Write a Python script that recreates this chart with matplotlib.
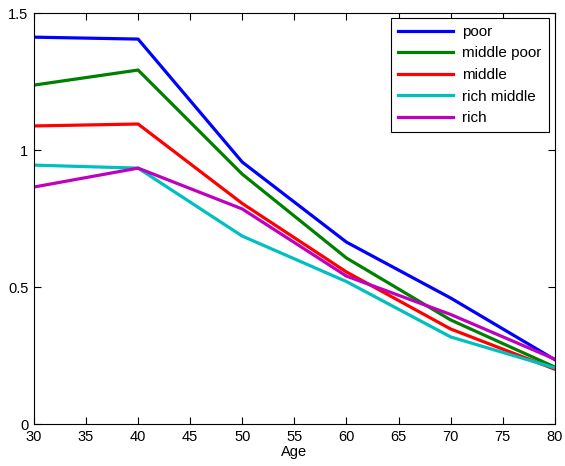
import matplotlib
matplotlib.use('Agg')
import matplotlib.pyplot as plt

plt.rcParams['font.family'] = ['Liberation Sans', 'DejaVu Sans']
plt.rcParams['font.size'] = 10.5

# age groups and ratio per income group
age = [30, 40, 50, 60, 70, 80]
poor = [1.412, 1.405, 0.956, 0.664, 0.460, 0.235]
middle_poor = [1.237, 1.292, 0.912, 0.606, 0.380, 0.208]
middle = [1.088, 1.095, 0.805, 0.555, 0.347, 0.200]
rich_middle = [0.945, 0.934, 0.686, 0.520, 0.318, 0.205]
rich = [0.865, 0.934, 0.785, 0.540, 0.400, 0.237]

fig = plt.figure(figsize=(5.65, 4.66), dpi=100)
ax = fig.add_axes([0.060, 0.090, 0.922, 0.882])

lw = 2.3
ax.plot(age, poor, color=(0, 0, 1), lw=lw, label='poor')
ax.plot(age, middle_poor, color=(0, 0.5, 0), lw=lw, label='middle poor')
ax.plot(age, middle, color=(1, 0, 0), lw=lw, label='middle')
ax.plot(age, rich_middle, color=(0, 0.75, 0.75), lw=lw, label='rich middle')
ax.plot(age, rich, color=(0.75, 0, 0.75), lw=lw, label='rich')

ax.set_xlim(30, 80)
ax.set_ylim(0, 1.5)
ax.set_xticks(range(30, 81, 5))
ax.set_yticks([0, 0.5, 1, 1.5])
ax.set_yticklabels(['0', '0.5', '1', '1.5'])
ax.tick_params(direction='in', top=True, right=True, length=5, width=0.8, pad=4)
for s in ax.spines.values():
    s.set_linewidth(0.8)
ax.set_xlabel('Age', labelpad=1)

leg = ax.legend(loc='upper right', fancybox=False, edgecolor='black',
                framealpha=1, fontsize=11, handlelength=3.6, borderpad=0.45,
                labelspacing=0.5, handletextpad=0.6, borderaxespad=0,
                bbox_to_anchor=(0.988, 0.988))
leg.get_frame().set_linewidth(0.8)

fig.savefig('out.png', dpi=100)
